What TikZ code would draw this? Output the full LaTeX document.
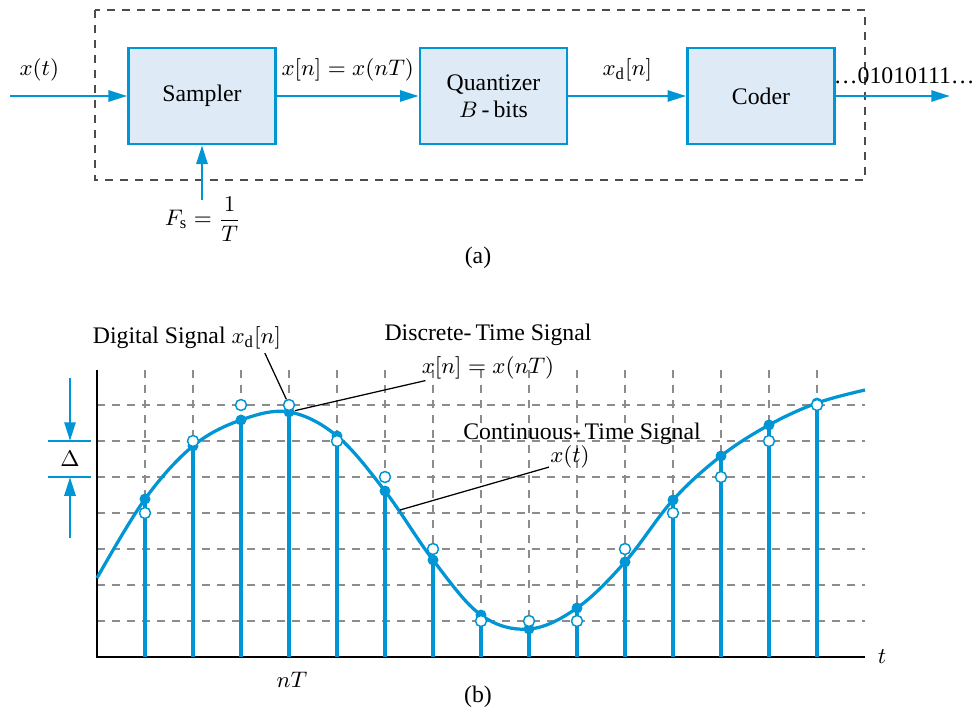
\documentclass[tikz,border=0pt]{standalone}
\usepackage{amsmath}
\usepackage{fontspec}
\setmainfont{Liberation Serif}
\usetikzlibrary{positioning,arrows.meta,calc}
\definecolor{sigblue}{RGB}{0,150,214}
\definecolor{boxfill}{RGB}{222,234,246}
\newcommand{\xd}{x_{\mathrm{d}}}
\newcommand{\Fs}{F_{\mathrm{s}}}

\begin{document}
\begin{tikzpicture}[
  x=0.4pt, y=-0.4pt,
  font=\fontsize{9.5}{11}\selectfont,
  block/.style={draw=sigblue, line width=1pt, fill=boxfill,
    minimum width=58.8pt, minimum height=38.4pt, align=center},
  arr/.style={-{Triangle[length=7.5pt,width=4.4pt]}, line width=1.1pt, sigblue},
  lbl/.style={above, yshift=2pt, text=black},
  gridline/.style={dashed, black!45, line width=0.5pt},
  stem/.style={line width=1.3pt, sigblue},
  dot/.style={circle, fill=sigblue, inner sep=0pt, minimum size=4.4pt},
  qdot/.style={circle, draw=sigblue, fill=white, line width=0.6pt,
    inner sep=0pt, minimum size=4.4pt},
  note/.style={black, line width=0.5pt},
]
\useasboundingbox (0,0) rectangle (976,708);

% (a) sampler, quantizer, coder
\draw[dashed, black!70, line width=0.6pt] (95,10) rectangle (865,180);
\node[block] (sampler) at (202,96) {Sampler};
\node[block, right=56.8pt of sampler] (quant) {Quantizer\\$B$\,-\,bits};
\node[block, right=47.2pt of quant] (coder) {Coder};
\coordinate (in) at (10,96);
\coordinate (out) at (950,96);
\draw[arr] (in) -- node[lbl, pos=0.25] {$x(t)$} (sampler);
\draw[arr] (sampler) -- node[lbl] {$x[n] = x(nT)$} (quant);
\draw[arr] (quant) -- node[lbl] {$\xd[n]$} (coder);
\draw[arr] (coder) -- node[lbl, pos=0.6, yshift=-1pt] {\ldots01010111\ldots} (out);
\node (fs) at (203,219) {$\Fs = \dfrac{1}{T}$};
\draw[arr] ($(fs.north -| sampler.south)+(0,12)$) -- (sampler.south);
\node (capa) at (478,258) {(a)};

% (b) grid and axes
\foreach \y in {405,441,...,621}
  \draw[gridline] (97,\y) -- (865,\y);
\foreach \i in {1,...,15}
  \draw[gridline] ({97+48*\i},370) -- ({97+48*\i},657);
\coordinate (O) at (97,657);
\draw[line width=0.9pt] (97,370) -- (O) -- (865,657);
\node (t) at (882,657) {$t$};
\node (nT) at (292,680) {$nT$};
\node (capb) at (478,697) {(b)};

% continuous-time signal
\draw[sigblue, line width=1.3pt] plot[smooth, tension=0.6] coordinates {
  (97,578) (145,499) (193,446) (241,420) (289,412) (337,436) (385,491)
  (433,560) (481,615) (529,629) (577,608) (625,562) (673,500) (721,456)
  (769,425) (817,403) (865,390)};

% samples x[n] and quantized levels xd[n]
\foreach \n/\c/\q in {1/499/513, 2/446/441, 3/420/405, 4/412/405,
    5/436/441, 6/491/477, 7/560/549, 8/615/621, 9/629/621, 10/608/621,
    11/562/549, 12/500/513, 13/456/477, 14/425/441, 15/403/405} {
  \coordinate (b\n) at ({97+48*\n},657);
  \node[dot] (s\n) at ({97+48*\n},\c) {};
  \draw[stem] (b\n) -- (s\n.center);
  \node[qdot] (q\n) at ({97+48*\n},\q) {};
}

% step size
\coordinate (dtop) at (70,378);
\coordinate (dhi) at (70,441);
\coordinate (dlo) at (70,477);
\coordinate (dbot) at (70,538);
\draw[sigblue, line width=1.1pt] (48,441) -- (91,441) (48,477) -- (91,477);
\draw[arr] (dtop) -- (dhi);
\draw[arr] (dbot) -- (dlo);
\node (delta) at (70,459) {$\Delta$};

% labels
\node (dig) at (187,338) {Digital Signal $\xd[n]$};
\draw[note] ([xshift=-10pt,yshift=2pt]dig.south east) -- (q4);
\node (dts) at (488,335) {Discrete-\,Time Signal};
\node (xn) at (488,368) {$x[n] = x(nT)$};
\draw[note] (s4) -- ([xshift=5pt,yshift=3pt]xn.south west);
\node (cts) at (582,434) {Continuous-\,Time Signal};
\node (xt) at (570,457) {$x(t)$};
\coordinate (cpt) at (400,510);
\draw[note] ([xshift=3pt,yshift=4pt]xt.south west) -- (cpt);
\end{tikzpicture}
\end{document}
